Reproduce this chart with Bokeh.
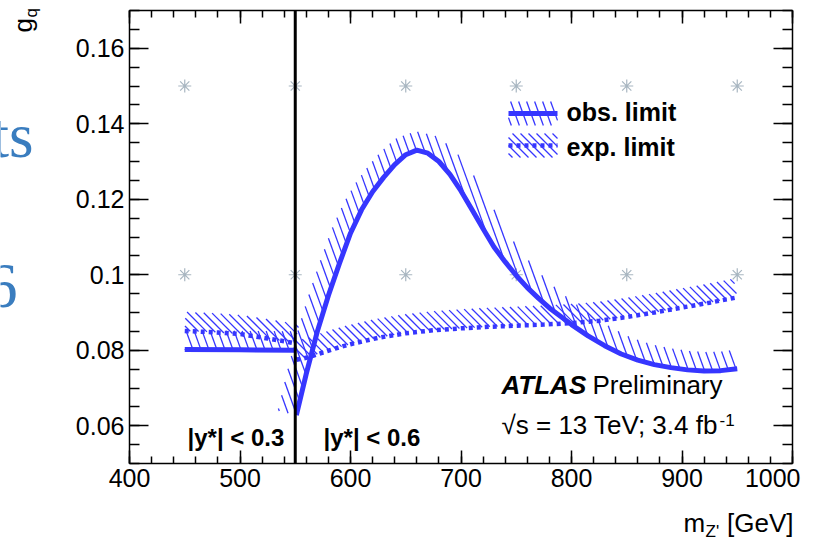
import numpy as np
from bokeh.plotting import figure
from bokeh.models import FixedTicker, LinearAxis, Range1d, Label
from bokeh.embed import file_html
from bokeh.resources import INLINE

# ---------------- data ----------------
obs_left_m = [450, 500, 550]
obs_left_g = [0.0802, 0.0801, 0.0800]

obs_right_m = [551, 560, 570, 580, 590, 600, 610, 620, 630, 640, 650, 660, 670, 680,
               690, 700, 710, 720, 730, 740, 750, 760, 770, 780, 790, 800, 815, 830,
               845, 860, 875, 890, 905, 920, 935, 950]
obs_right_g = [0.0628, 0.0738, 0.0850, 0.0945, 0.1030, 0.1110, 0.1172, 0.1220, 0.1258,
               0.1292, 0.1318, 0.1330, 0.1322, 0.1300, 0.1266, 0.1222, 0.1172, 0.1122,
               0.1073, 0.1034, 0.0998, 0.0966, 0.0938, 0.0912, 0.0890, 0.0868, 0.0838,
               0.0812, 0.0790, 0.0774, 0.0762, 0.0754, 0.0748, 0.0745, 0.0746, 0.0751]

exp_left_m = [450, 475, 500, 525, 540, 550]
exp_left_g = [0.0851, 0.0848, 0.0843, 0.0831, 0.0824, 0.0818]

exp_right_m = [551, 560, 575, 590, 600, 625, 650, 675, 700, 725, 750, 775, 800, 825,
               850, 875, 900, 925, 950]
exp_right_g = [0.0775, 0.0780, 0.0794, 0.0808, 0.0816, 0.0833, 0.0845, 0.0853, 0.0858,
               0.0862, 0.0865, 0.0868, 0.0872, 0.0878, 0.0888, 0.0900, 0.0913, 0.0926,
               0.0940]

grid_m = [450, 550, 650, 750, 850, 950]
grid_g = [0.10, 0.15]
ystar_boundary = 550

x_ticks = [400, 500, 600, 700, 800, 900, 1000]
x_tick_labels = ["400", "500", "600", "700", "800", "900", "1000"]
y_ticks = [0.06, 0.08, 0.10, 0.12, 0.14, 0.16]
y_tick_labels = ["0.06", "0.08", "0.1", "0.12", "0.14", "0.16"]

# ---------------- layout ----------------
W, H = 816, 542                 # canvas
FL, FT, FW, FH = 129, 10, 663, 453   # plotting box inside the canvas (pixels)
X0, X1 = 400, 1000
Y0, Y1 = 0.05, 0.17
SX = FW / (X1 - X0)
SY = FH / (Y1 - Y0)
BLUE = "#3636ff"
GRAY = "#a8b6c1"
FONT = "Liberation Sans"


def data_to_px(x, y):
    return (np.asarray(x, float) - X0) * SX, (Y1 - np.asarray(y, float)) * SY


def px_to_data(X, Y):
    return X0 + np.asarray(X, float) / SX, Y1 - np.asarray(Y, float) / SY


def band_polygon(x, y, width):
    X, Y = data_to_px(x, y)
    P = np.column_stack([X, Y])
    d = np.diff(P, axis=0)
    d /= np.linalg.norm(d, axis=1)[:, None]
    t = np.vstack([d[:1], d[:-1] + d[1:], d[-1:]])
    t /= np.linalg.norm(t, axis=1)[:, None]
    n = np.column_stack([t[:, 1], -t[:, 0]])
    Q = P + width * n
    return np.vstack([P, Q[::-1]])


def hatch_segments(poly, angle_deg, spacing):
    th = np.radians(angle_deg)
    dvec = np.array([np.cos(th), np.sin(th)])
    m = np.array([np.sin(th), -np.cos(th)])
    step = spacing * np.sin(th)
    proj = poly @ m
    cs = np.arange(np.floor(proj.min() / step) * step + step * 0.5, proj.max(), step)
    A = poly
    B = np.roll(poly, -1, axis=0)
    xs0, ys0, xs1, ys1 = [], [], [], []
    for c in cs:
        fa = A @ m - c
        fb = B @ m - c
        mask = fa * fb < 0
        if not mask.any():
            continue
        tt = fa[mask] / (fa[mask] - fb[mask])
        pts = A[mask] + (B[mask] - A[mask]) * tt[:, None]
        pts = pts[np.argsort(pts @ dvec)]
        for k in range(0, len(pts) - 1, 2):
            xs0.append(pts[k][0]); ys0.append(pts[k][1])
            xs1.append(pts[k + 1][0]); ys1.append(pts[k + 1][1])
    x0, y0 = px_to_data(xs0, ys0)
    x1, y1 = px_to_data(xs1, ys1)
    return x0, y0, x1, y1


# the frame covers the whole canvas; the axes are drawn at fixed data locations
xr = Range1d(X0 - FL / SX, X1 + (W - FL - FW) / SX)
yr = Range1d(Y0 - (H - FT - FH) / SY, Y1 + FT / SY)
p = figure(frame_width=W, frame_height=H, x_range=xr, y_range=yr,
           x_axis_type=None, y_axis_type=None,
           output_backend="svg", toolbar_location=None,
           min_border=0, min_border_left=0, min_border_right=0,
           min_border_top=0, min_border_bottom=0)
p.xgrid.visible = False
p.ygrid.visible = False
p.outline_line_color = None
p.background_fill_color = "white"
p.border_fill_color = "white"

xt = FixedTicker(ticks=x_ticks, minor_ticks=list(range(400, 1001, 20)))
yt = FixedTicker(ticks=y_ticks, minor_ticks=[round(0.05 + 0.005 * i, 4) for i in range(25)])


def make_axis(ticker, loc, bounds, tin, tmin, labels, overrides=None):
    ax = LinearAxis(ticker=ticker, fixed_location=loc, bounds=bounds)
    ax.major_tick_in = tin
    ax.major_tick_out = 0
    ax.minor_tick_in = tmin
    ax.minor_tick_out = 0
    ax.axis_line_width = 1.5
    ax.major_tick_line_width = 1.5
    ax.minor_tick_line_width = 1.5
    ax.axis_line_color = "black"
    ax.major_tick_line_color = "black"
    ax.minor_tick_line_color = "black"
    if labels:
        ax.major_label_text_font = FONT
        ax.major_label_text_font_size = "25px"
        ax.major_label_text_color = "black"
        ax.major_label_standoff = 5
        ax.major_label_overrides = overrides
    else:
        ax.major_label_text_font_size = "0px"
        ax.major_label_text_alpha = 0
        ax.major_label_standoff = 0
    return ax


over_x = {t: l for t, l in zip(x_ticks, x_tick_labels)}
over_x[1000] = ""          # drawn separately, shifted inside the window
over_y = {t: l for t, l in zip(y_ticks, y_tick_labels)}
p.add_layout(make_axis(xt, Y0, (X0, X1), 13, 7, True, over_x), "below")
p.add_layout(make_axis(xt, Y1, (X0, X1), 13, 7, False), "above")
p.add_layout(make_axis(yt, X0, (Y0, Y1), 19, 10, True, over_y), "left")
p.add_layout(make_axis(yt, X1, (Y0, Y1), 19, 10, False), "right")

# signal grid points
gm = [m for g in grid_g for m in grid_m]
gg = [g for g in grid_g for m in grid_m]
p.scatter(gm, gg, marker="asterisk", size=13, line_color=GRAY, line_width=1.2)

# hatched exclusion bands
BAND = 19
for (mx, gy, ang) in [(exp_left_m, exp_left_g, 45), (exp_right_m, exp_right_g, 45),
                      (obs_left_m, obs_left_g, 70), (obs_right_m, obs_right_g, 70)]:
    poly = band_polygon(mx, gy, BAND)
    x0, y0, x1, y1 = hatch_segments(poly, ang, 8)
    p.segment(x0=x0, y0=y0, x1=x1, y1=y1, line_color=BLUE, line_width=1.3)

# limit curves
for mx, gy in [(exp_left_m, exp_left_g), (exp_right_m, exp_right_g)]:
    p.line(mx, gy, line_color=BLUE, line_width=4.5, line_dash="4 4")
for mx, gy in [(obs_left_m, obs_left_g), (obs_right_m, obs_right_g)]:
    p.line(mx, gy, line_color=BLUE, line_width=5, line_join="round")

# |y*| boundary
p.segment(x0=[ystar_boundary], y0=[Y0], x1=[ystar_boundary], y1=[Y1],
          line_color="black", line_width=3)

# legend (pixel positions inside the plotting box, Y down from its top)
LX0, LX1 = 379, 428
for (yt0, yt1, ang, dash, lw) in [(91, 115, 70, "solid", 5), (123, 147, 45, "4 4", 4.5)]:
    rect = np.array([[LX0, yt0], [LX1, yt0], [LX1, yt1], [LX0, yt1]], float)
    x0, y0, x1, y1 = hatch_segments(rect, ang, 8)
    p.segment(x0=x0, y0=y0, x1=x1, y1=y1, line_color=BLUE, line_width=1.3)
    lx, ly = px_to_data([LX0, LX1], [(yt0 + yt1) / 2] * 2)
    p.line(list(lx), list(ly), line_color=BLUE, line_width=lw, line_dash=dash)


def lab(text, ix, iy, size, style="normal", align="left", baseline="alphabetic",
        font=FONT, color="black", angle=0):
    # ix, iy: baseline position in window pixels from the top-left corner
    sx, sy = float(ix), float(H - iy)
    if baseline == "alphabetic":
        shift = 0.34 * size
        if angle:
            sx -= shift
        else:
            sy += shift
    p.add_layout(Label(x=sx, y=sy, x_units="screen", y_units="screen", text=text,
                       text_font=font, text_font_size=f"{size}px",
                       text_font_style=style, text_align=align,
                       text_baseline=baseline, text_color=color, angle=angle))


lab("obs. limit", 566, 120, 25, "bold")
lab("exp. limit", 566, 155, 25, "bold")
lab("ATLAS", 501, 393, 26, "bold italic")
lab("Preliminary", 592, 393, 26)
lab("\u221as = 13 TeV; 3.4 fb", 501, 433, 26)
lab("-1", 719, 425, 17)
lab("|y*| < 0.3", 187, 445, 24, "bold")
lab("|y*| < 0.6", 323, 445, 24, "bold")
lab("1000", 800, 468, 25, align="right", baseline="top")
lab("m", 683, 531, 26)
lab("Z'", 705, 537, 17)
lab("[GeV]", 793, 531, 26, align="right")
lab("g", 31, 32, 26, angle=np.pi / 2)
lab("q", 37, 17, 17, angle=np.pi / 2)
# slide background remnants at the left edge
lab("ts", 33, 157, 63, font="Liberation Serif", color="#3a7dbf", align="right")
lab("6", 17, 307, 63, font="Liberation Serif", color="#3a7dbf", align="right")

open("out.html", "w").write(file_html(p, INLINE))
